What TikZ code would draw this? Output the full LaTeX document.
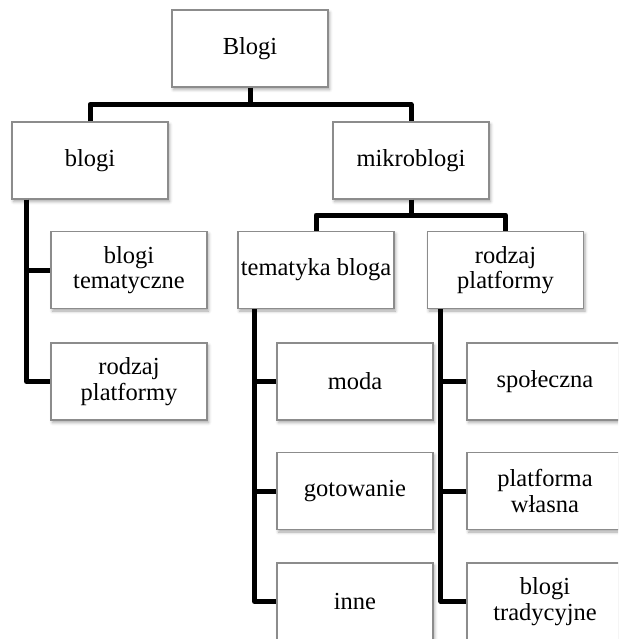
\documentclass[tikz,border=0pt]{standalone}
\usepackage{fontspec}
\setmainfont{Liberation Serif}
\usetikzlibrary{shadows.blur}
\begin{document}
\begin{tikzpicture}[x=1pt,y=-1pt,
  box/.style={draw=black!45, line width=1.1pt, fill=white,
    minimum width=156pt, minimum height=77pt, align=center, inner sep=2pt,
    font=\fontsize{24.5}{25.5}\selectfont,
    blur shadow={shadow xshift=1.5pt, shadow yshift=-2.5pt, shadow blur radius=3pt, shadow opacity=35}},
  conn/.style={line width=5pt, black, line join=round}]
\useasboundingbox (0,0) rectangle (618,639);
\clip (0,0) rectangle (618,639);
% nodes
\node[box] (root) at (250,48.5) {Blogi};
\node[box] (b1) at (90,160.5) {blogi};
\node[box] (mb) at (411,160.5) {mikroblogi};
\node[box] (bt) at (129,270) {blogi\\tematyczne};
\node[box] (rp1) at (129,381.5) {rodzaj\\platformy};
\node[box] (tb) at (316,270) {tematyka bloga};
\node[box] (rp2) at (505.5,270) {rodzaj\\platformy};
\node[box] (moda) at (355,381.5) {moda};
\node[box] (got) at (355,491) {gotowanie};
\node[box] (inne) at (355,601.5) {inne};
\node[box] (spo) at (545,381.5) {społeczna};
\node[box] (pw) at (545,491) {platforma\\własna};
\node[box] (btr) at (545,601.5) {blogi\\tradycyjne};
% connectors
\coordinate (bar) at (250,104.5);
\draw[conn] (root.south) -- (bar);
\draw[conn] (b1.north) |- (bar) -| (mb.north);
\coordinate (v1) at ([xshift=15pt]b1.south west);
\draw[conn] (v1) |- (bt.west);
\draw[conn] (v1) |- (rp1.west);
\coordinate (bar2) at (411,215);
\draw[conn] (mb.south) -- (bar2);
\draw[conn] (tb.north) |- (bar2) -| (rp2.north);
\coordinate (v2) at ([xshift=17pt]tb.south west);
\draw[conn] (v2) |- (moda.west);
\draw[conn] (v2) |- (got.west);
\draw[conn] (v2) |- (inne.west);
\coordinate (v3) at ([xshift=14pt]rp2.south west);
\draw[conn] (v3) |- (spo.west);
\draw[conn] (v3) |- (pw.west);
\draw[conn] (v3) |- (btr.west);
\end{tikzpicture}
\end{document}
